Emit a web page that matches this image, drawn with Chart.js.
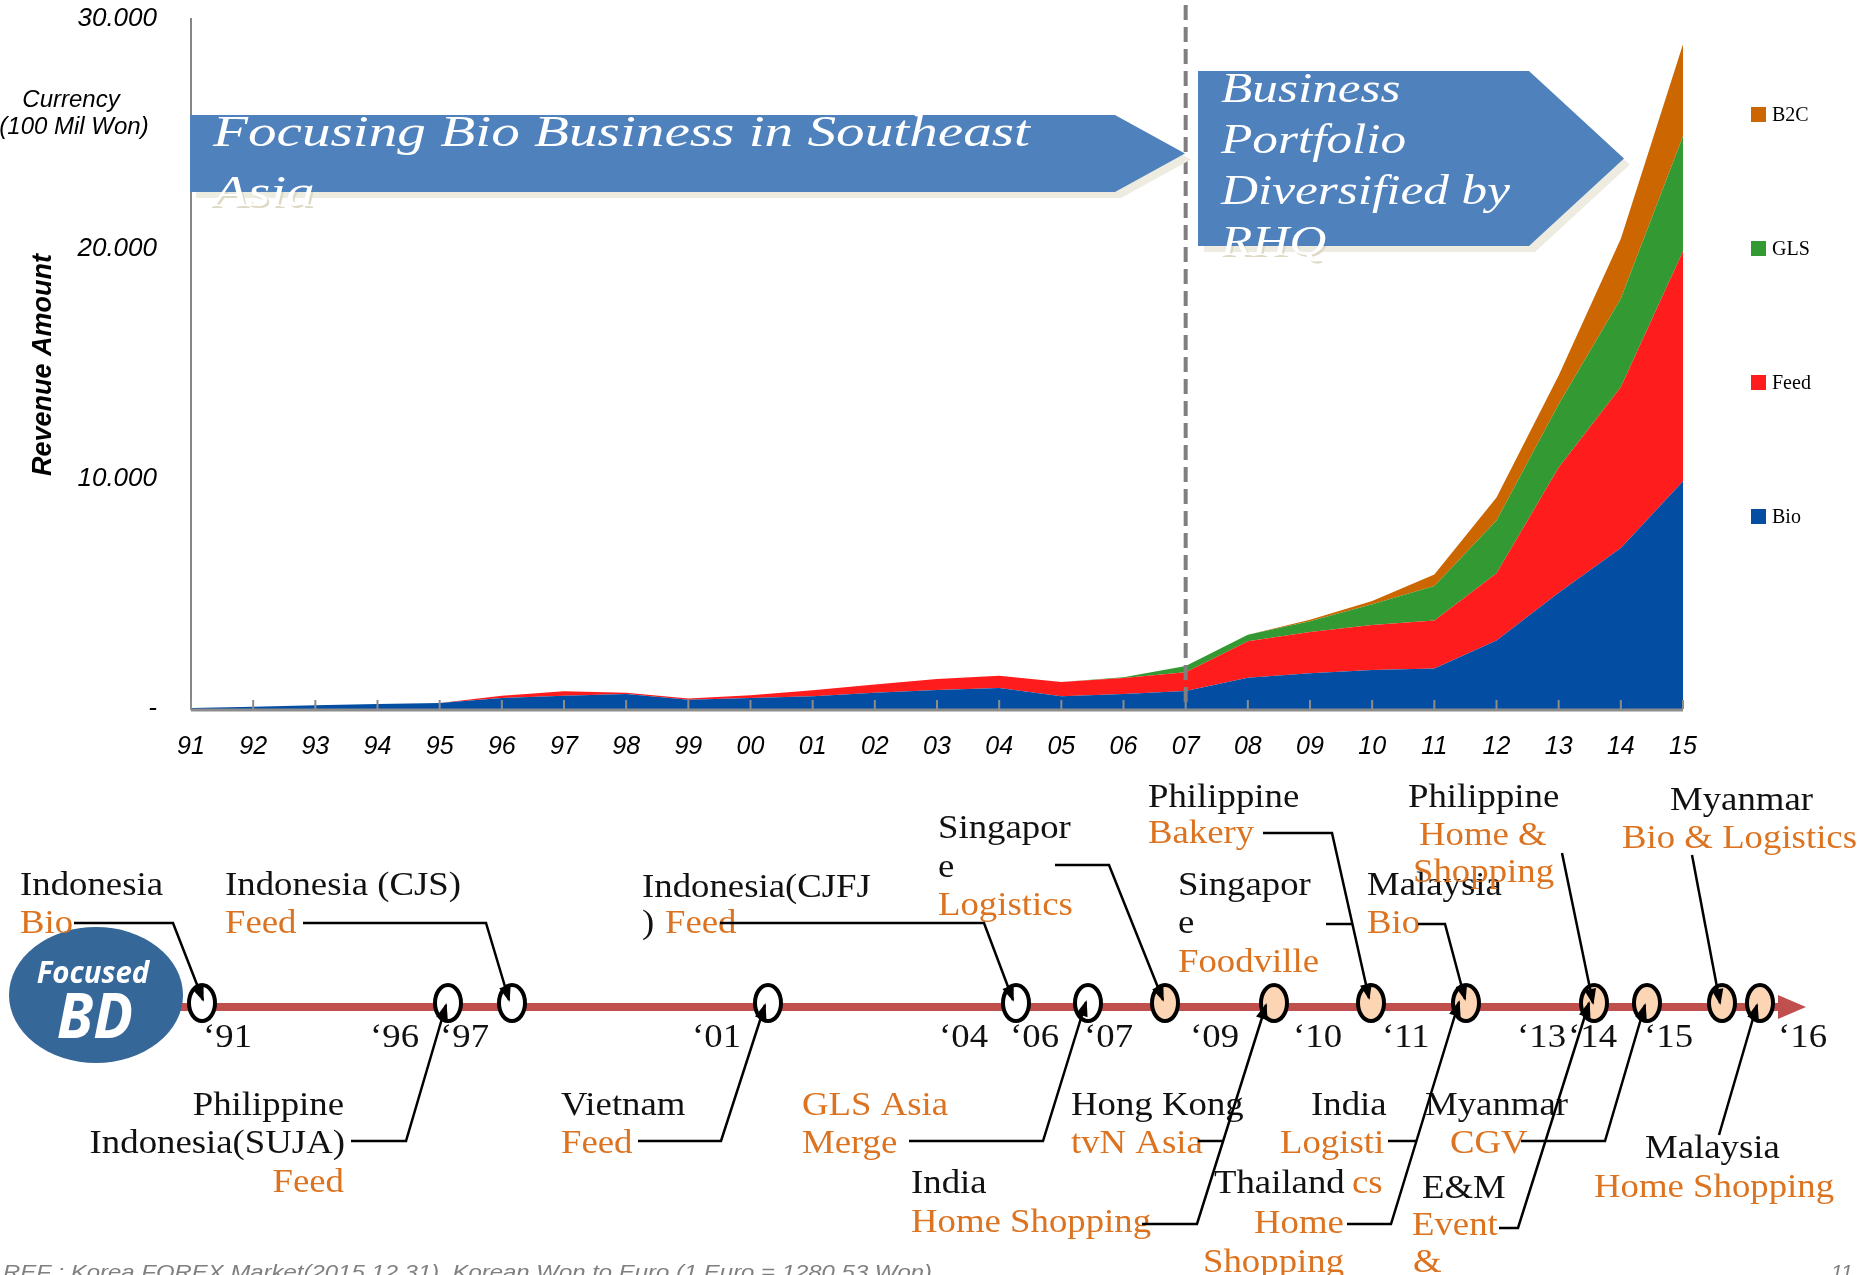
<!DOCTYPE html>
<html>
<head>
<meta charset="utf-8">
<script src="https://cdn.jsdelivr.net/npm/chart.js@4.4.0/dist/chart.umd.min.js"></script>
<style>
  html, body { margin: 0; padding: 0; background: #fff; overflow: hidden; }
  canvas { display: block; }
</style>
</head>
<body>
<canvas id="chart" width="1874" height="1275" style="width:1874px;height:1275px"></canvas>
<script>
// revenue by business line, 100 Mil Won
const years = ['91','92','93','94','95','96','97','98','99','00','01','02','03','04','05','06','07','08','09','10','11','12','13','14','15'];
const bio  = [40,100,160,220,260,480,580,650,400,480,550,710,830,910,550,650,780,1360,1550,1700,1760,2980,5050,7000,9900];
const feed = [0,0,0,0,0,100,190,60,60,120,260,350,470,540,620,700,820,1590,1800,1950,2090,2920,5450,7000,10000];
const gls  = [0,0,0,0,0,0,0,0,0,0,0,0,0,0,0,30,270,280,470,900,1500,2300,2750,3850,5000];
const b2c  = [0,0,0,0,0,0,0,0,0,0,0,0,0,0,0,0,0,0,60,150,500,1000,1250,2600,4000];
const seriesNames = ['Bio', 'Feed', 'GLS', 'B2C'];
const seriesColors = ['#034ea2', '#fe1c1c', '#339933', '#cc6600'];
const yTicks = [0, 10000, 20000, 30000];
const phaseYear = '07';
const phase1 = ['Focusing Bio Business in Southeast', 'Asia'];
const phase2 = ['Business', 'Portfolio', 'Diversified by', 'RHQ'];

// timeline (drawn as annotation below the chart)
const yearTags = [['‘91',203],['‘96',370],['‘97',440],['‘01',692],['‘04',939],['‘06',1010],['‘07',1084],
  ['‘09',1190],['‘10',1293],['‘11',1382],['‘13',1517],['‘14',1568],['‘15',1644],['‘16',1778]];
const markers = [[202,0],[448,0],[512,0],[768,0],[1016,0],[1088,0],[1165,1],[1274,1],[1371,1],[1466,1],[1594,1],[1647,1],[1722,1],[1760,1]];
const notes = [
  ['Indonesia',20,895,'k'], ['Bio',20,933,'o'],
  ['Indonesia (CJS)',225,895,'k'], ['Feed',225,933,'o'],
  ['Indonesia(CJFJ',642,897,'k'], [')',642,933,'k'], ['Feed',665,933,'o'],
  ['Singapor',938,838,'k'], ['e',938,877,'k'], ['Logistics',938,915,'o'],
  ['Philippine',1148,807,'k'], ['Bakery',1148,843,'o'],
  ['Singapor',1178,895,'k'], ['e',1178,933,'k'], ['Foodville',1178,972,'o'],
  ['Malaysia',1367,895,'k'], ['Bio',1367,933,'o'],
  ['Philippine',1408,807,'k'], ['Home &',1419,845,'o'], ['Shopping',1413,882,'o'],
  ['Myanmar',1670,810,'k'], ['Bio & Logistics',1622,848,'o'],
  ['Philippine',344,1115,'k','right'], ['Indonesia(SUJA)',345,1153,'k','right'], ['Feed',344,1192,'o','right'],
  ['Vietnam',561,1115,'k'], ['Feed',561,1153,'o'],
  ['GLS Asia',802,1115,'o'], ['Merge',802,1153,'o'],
  ['India',911,1193,'k'], ['Home Shopping',911,1232,'o'],
  ['Hong Kong',1071,1115,'k'], ['tvN Asia',1071,1153,'o'],
  ['India',1311,1115,'k'], ['Logisti',1280,1153,'o'], ['cs',1352,1193,'o'],
  ['Thailand',1214,1193,'k'], ['Home',1254,1233,'o'], ['Shopping',1203,1272,'o'],
  ['Myanmar',1425,1115,'k'], ['CGV',1450,1153,'o'],
  ['E&M',1422,1198,'k'], ['Event',1412,1235,'o'], ['&',1413,1272,'o'],
  ['Malaysia',1645,1158,'k'], ['Home Shopping',1594,1197,'o']
];
const leaders = [
  [[74,923],[173,923],[203,1000]],
  [[303,923],[486,923],[509,1000]],
  [[720,923],[984,923],[1013,1000]],
  [[1055,865],[1109,865],[1163,1000]],
  [[1263,833],[1332,833],[1369,998]],
  [[1326,924],[1353,924]],
  [[1418,924],[1445,924],[1465,999]],
  [[1562,853],[1593,1003]],
  [[1692,855],[1720,1003]],
  [[351,1141],[406,1141],[446,1005]],
  [[638,1141],[721,1141],[765,1005]],
  [[909,1141],[1043,1141],[1086,1002]],
  [[1198,1141],[1223,1141]],
  [[1142,1224],[1197,1224],[1266,1005]],
  [[1388,1141],[1416,1141]],
  [[1347,1224],[1391,1224],[1459,1002]],
  [[1521,1141],[1605,1141],[1645,1005]],
  [[1499,1228],[1518,1228],[1589,1003]],
  [[1719,1135],[1757,1005]]
];
const footNote = 'REF : Korea FOREX Market(2015.12.31), Korean Won to Euro (1 Euro = 1280.53 Won)';

const ORANGE = '#dc7320';
const SERIF = '"Liberation Serif", "Times New Roman", serif';
const SANS = '"Liberation Sans", Arial, sans-serif';
const AREA_TOP = 19;

function fitScale(ctx, font, sample, width) {
  ctx.font = font;
  return width / ctx.measureText(sample).width;
}

function text(ctx, s, x, y, color, align, k) {
  ctx.save();
  ctx.translate(x, y);
  ctx.scale(k || 1, 1);
  ctx.textAlign = align || 'left';
  ctx.fillStyle = color;
  ctx.fillText(s, 0, 0);
  ctx.restore();
}

function pentagonPath(ctx, x0, y0, x1, y1, tip) {
  const cy = (y0 + y1) / 2;
  ctx.moveTo(x0, y0);
  ctx.lineTo(x1, y0);
  ctx.lineTo(tip, cy);
  ctx.lineTo(x1, y1);
  ctx.lineTo(x0, y1);
  ctx.closePath();
}

function pentagon(ctx, x0, y0, x1, y1, tip, color) {
  ctx.beginPath();
  pentagonPath(ctx, x0, y0, x1, y1, tip);
  ctx.fillStyle = color;
  ctx.fill();
}

const deco = {
  id: 'deco',
  afterDatasetsDraw(chart) {
    const { ctx, chartArea: a, scales: { x } } = chart;
    ctx.save();
    // axis line over the areas
    ctx.strokeStyle = '#8c8c8c';
    ctx.lineWidth = 3;
    ctx.beginPath();
    ctx.moveTo(a.left, a.bottom + 1);
    ctx.lineTo(a.right, a.bottom + 1);
    ctx.stroke();
    // inner tick marks
    ctx.lineWidth = 2;
    years.forEach((yr, i) => {
      const px = x.getPixelForValue(i);
      ctx.beginPath();
      ctx.moveTo(px, a.bottom);
      ctx.lineTo(px, a.bottom - 9);
      ctx.stroke();
    });
    // phase divider
    const dx = x.getPixelForValue(years.indexOf(phaseYear));
    ctx.setLineDash([15, 7]);
    ctx.lineWidth = 4;
    ctx.strokeStyle = '#7f7f7f';
    ctx.beginPath();
    ctx.moveTo(dx, 5);
    ctx.lineTo(dx, a.bottom);
    ctx.stroke();
    ctx.restore();
  },
  afterDraw(chart) {
    const { ctx } = chart;
    ctx.save();
    ctx.textBaseline = 'alphabetic';

    // phase arrows
    pentagon(ctx, 196, 121, 1121, 198, 1191, '#eeece1');
    pentagon(ctx, 190, 115, 1115, 192, 1185, '#4f81bd');
    pentagon(ctx, 1204, 77, 1535, 252, 1630, '#eeece1');
    pentagon(ctx, 1198, 71, 1529, 246, 1624, '#4f81bd');

    const f1 = 'italic 45px ' + SERIF;
    const k1 = fitScale(ctx, f1, phase1[0], 817);
    const f2 = 'italic 42px ' + SERIF;
    const k2 = fitScale(ctx, f2, phase2[2], 289);
    // beige shadow only where the text leaves the arrow boxes
    ctx.save();
    ctx.beginPath();
    ctx.rect(0, 0, 1874, 1275);
    pentagonPath(ctx, 190, 115, 1115, 192, 1185);
    pentagonPath(ctx, 1198, 71, 1529, 246, 1624);
    ctx.clip('evenodd');
    ctx.font = f1;
    phase1.forEach((s, i) => text(ctx, s, 215, 148 + i * 60, '#ddd9c4', 'left', k1));
    ctx.font = f2;
    phase2.forEach((s, i) => text(ctx, s, 1223, 104 + i * 51, '#ddd9c4', 'left', k2));
    ctx.restore();
    ctx.font = f1;
    phase1.forEach((s, i) => text(ctx, s, 213, 146 + i * 60, '#fff', 'left', k1));
    ctx.font = f2;
    phase2.forEach((s, i) => text(ctx, s, 1221, 102 + i * 51, '#fff', 'left', k2));

    // axis titles
    ctx.font = 'italic 24px ' + SANS;
    text(ctx, 'Currency', 71, 107, '#000', 'center');
    text(ctx, '(100 Mil Won)', 74, 134, '#000', 'center');
    ctx.save();
    ctx.translate(44, 365);
    ctx.rotate(-Math.PI / 2);
    ctx.font = 'bold italic 27px ' + SANS;
    ctx.textAlign = 'center';
    ctx.textBaseline = 'middle';
    ctx.fillStyle = '#000';
    ctx.fillText('Revenue Amount', 0, 0);
    ctx.restore();

    // legend, top to bottom in stack order
    ctx.font = '20px ' + SERIF;
    chart.data.datasets.slice().reverse().forEach((ds, i) => {
      const cy = 114 + i * 134;
      ctx.fillStyle = ds.backgroundColor;
      ctx.fillRect(1751, cy - 7, 15, 15);
      text(ctx, ds.label, 1772, cy + 7, '#000');
    });

    // timeline bar
    ctx.strokeStyle = '#c0504d';
    ctx.lineWidth = 8;
    ctx.beginPath();
    ctx.moveTo(100, 1007);
    ctx.lineTo(1782, 1007);
    ctx.stroke();
    ctx.fillStyle = '#c0504d';
    ctx.beginPath();
    ctx.moveTo(1778, 995);
    ctx.lineTo(1806, 1007);
    ctx.lineTo(1778, 1019);
    ctx.closePath();
    ctx.fill();

    // Focused BD badge
    ctx.fillStyle = '#366799';
    ctx.beginPath();
    ctx.ellipse(96, 995, 87, 68, 0, 0, Math.PI * 2);
    ctx.fill();
    ctx.font = 'bold italic 31px "Open Sans", sans-serif';
    text(ctx, 'Focused', 93, 983, '#fff', 'center', 0.95);
    ctx.font = 'bold italic 62px "Open Sans", sans-serif';
    text(ctx, 'BD', 95, 1038, '#fff', 'center', 0.95);

    // texts
    const f = '33px ' + SERIF;
    let k = fitScale(ctx, f, 'Indonesia', 143);
    yearTags.forEach(([s, px]) => text(ctx, s, px, 1047, '#111', 'left', k));
    notes.forEach(([s, px, py, c, al]) => text(ctx, s, px, py, c === 'o' ? ORANGE : '#111', al || 'left', k));

    // markers
    markers.forEach(([px, warm]) => {
      ctx.beginPath();
      ctx.ellipse(px, 1003, 13, 18, 0, 0, Math.PI * 2);
      ctx.fillStyle = warm ? '#fcd5b4' : '#fff';
      ctx.fill();
      ctx.lineWidth = 4;
      ctx.strokeStyle = '#000';
      ctx.stroke();
    });

    // leader lines with arrow heads
    ctx.strokeStyle = '#000';
    ctx.fillStyle = '#000';
    ctx.lineWidth = 2.5;
    leaders.forEach(pts => {
      ctx.beginPath();
      pts.forEach(([px, py], i) => i ? ctx.lineTo(px, py) : ctx.moveTo(px, py));
      ctx.stroke();
      const [ax, ay] = pts[pts.length - 2];
      const [bx, by] = pts[pts.length - 1];
      if (ay === by) return;
      const ang = Math.atan2(by - ay, bx - ax);
      ctx.save();
      ctx.translate(bx, by);
      ctx.rotate(ang);
      ctx.beginPath();
      ctx.moveTo(2, 0);
      ctx.lineTo(-14, -6);
      ctx.lineTo(-14, 6);
      ctx.closePath();
      ctx.fill();
      ctx.restore();
    });

    // footer
    const ff = 'italic 21px ' + SANS;
    k = fitScale(ctx, ff, footNote, 929);
    text(ctx, footNote, 3, 1279, '#808080', 'left', k);
    text(ctx, '11', 1831, 1279, '#808080', 'left');
    ctx.restore();
  }
};

const values = [bio, feed, gls, b2c];
const chart = new Chart(document.getElementById('chart').getContext('2d'), {
  type: 'line',
  data: {
    labels: years,
    datasets: seriesNames.map((name, i) => ({
      label: name,
      data: values[i],
      backgroundColor: seriesColors[i],
      borderColor: seriesColors[i],
      borderWidth: 0,
      pointRadius: 0,
      tension: 0,
      fill: i === 0 ? 'origin' : '-1'
    }))
  },
  options: {
    responsive: false,
    devicePixelRatio: 1,
    animation: false,
    layout: { padding: { top: AREA_TOP, right: 191, left: 0, bottom: 0 } },
    plugins: { legend: { display: false }, tooltip: { enabled: false } },
    scales: {
      x: {
        offset: false,
        grid: { display: false, drawTicks: false },
        border: { display: false },
        ticks: {
          color: '#000',
          padding: 23,
          maxRotation: 0,
          autoSkip: false,
          font: { family: SANS, size: 25, style: 'italic' }
        },
        afterFit: s => { s.height = 566; }
      },
      y: {
        stacked: true,
        min: 0,
        max: 30000,
        afterBuildTicks: s => { s.ticks = yTicks.map(v => ({ value: v })); },
        grid: { display: false, drawTicks: false },
        border: { display: true, color: '#868686', width: 2 },
        ticks: {
          color: '#000',
          padding: 34,
          font: { family: SANS, size: 26, style: 'italic' },
          callback: v => v === 0 ? '-' : (v / 1000) + '.000'
        },
        afterFit: s => { s.width = 191; s.paddingTop = 0; s.paddingBottom = 0; }
      }
    }
  },
  plugins: [deco]
});

// keep the plot top where the reference has it
const shift = chart.chartArea.top - AREA_TOP;
if (Math.abs(shift) > 0.5) {
  chart.options.layout.padding.top = AREA_TOP - shift;
  chart.update();
}
</script>
</body>
</html>
